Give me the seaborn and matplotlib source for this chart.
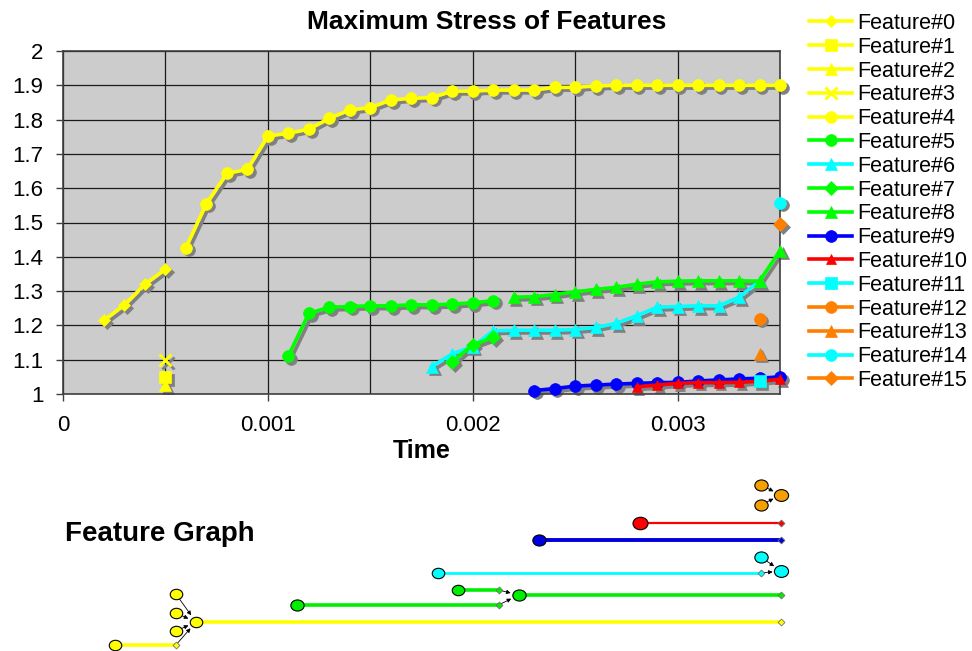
import numpy as np
import pandas as pd
import matplotlib
matplotlib.use("Agg")
import matplotlib.pyplot as plt
import seaborn as sns
from matplotlib.transforms import ScaledTranslation, Affine2D
from matplotlib.markers import MarkerStyle

# ---- data ----
t0 = [0.0002, 0.0003, 0.0004, 0.0005]
s0 = [1.215, 1.26, 1.32, 1.364]
t1 = [0.0005]
s1 = [1.05]
t2 = [0.0005]
s2 = [1.025]
t3 = [0.0005]
s3 = [1.098]
t4 = [0.0006, 0.0007, 0.0008, 0.0009, 0.0010, 0.0011, 0.0012, 0.0013, 0.0014, 0.0015,
      0.0016, 0.0017, 0.0018, 0.0019, 0.0020, 0.0021, 0.0022, 0.0023, 0.0024, 0.0025,
      0.0026, 0.0027, 0.0028, 0.0029, 0.0030, 0.0031, 0.0032, 0.0033, 0.0034, 0.0035]
s4 = [1.427, 1.555, 1.643, 1.655, 1.752, 1.76, 1.772, 1.804, 1.828, 1.835,
      1.857, 1.862, 1.864, 1.883, 1.883, 1.886, 1.886, 1.886, 1.894, 1.894,
      1.898, 1.9, 1.9, 1.9, 1.9, 1.9, 1.9, 1.9, 1.9, 1.9]
t5 = [0.0011, 0.0012, 0.0013, 0.0014, 0.0015, 0.0016, 0.0017, 0.0018, 0.0019, 0.0020, 0.0021]
s5 = [1.111, 1.235, 1.253, 1.255, 1.257, 1.257, 1.26, 1.26, 1.262, 1.266, 1.272]
t6 = [0.0018, 0.0019, 0.0020, 0.0021, 0.0022, 0.0023, 0.0024, 0.0025, 0.0026,
      0.0027, 0.0028, 0.0029, 0.0030, 0.0031, 0.0032, 0.0033, 0.0034]
s6 = [1.08, 1.117, 1.138, 1.184, 1.186, 1.186, 1.186, 1.188, 1.194,
      1.206, 1.228, 1.253, 1.255, 1.257, 1.257, 1.282, 1.329]
t7 = [0.0019, 0.0020, 0.0021]
s7 = [1.094, 1.143, 1.165]
t8 = [0.0022, 0.0023, 0.0024, 0.0025, 0.0026, 0.0027, 0.0028,
      0.0029, 0.0030, 0.0031, 0.0032, 0.0033, 0.0034, 0.0035]
s8 = [1.282, 1.284, 1.29, 1.298, 1.305, 1.311, 1.32,
      1.327, 1.329, 1.33, 1.33, 1.33, 1.329, 1.418]
t9 = [0.0023, 0.0024, 0.0025, 0.0026, 0.0027, 0.0028, 0.0029,
      0.0030, 0.0031, 0.0032, 0.0033, 0.0034, 0.0035]
s9 = [1.01, 1.016, 1.023, 1.026, 1.029, 1.031, 1.033,
      1.034, 1.038, 1.041, 1.044, 1.046, 1.05]
t10 = [0.0028, 0.0029, 0.0030, 0.0031, 0.0032, 0.0033, 0.0034, 0.0035]
s10 = [1.021, 1.026, 1.031, 1.033, 1.033, 1.034, 1.037, 1.043]
t11 = [0.0034]
s11 = [1.038]
t12 = [0.0034]
s12 = [1.22]
t13 = [0.0034]
s13 = [1.118]
t14 = [0.0035]
s14 = [1.558]
t15 = [0.0035]
s15 = [1.495]

times = [t0, t1, t2, t3, t4, t5, t6, t7, t8, t9, t10, t11, t12, t13, t14, t15]
stress = [s0, s1, s2, s3, s4, s5, s6, s7, s8, s9, s10, s11, s12, s13, s14, s15]
names = ["Feature#%d" % i for i in range(16)]

yticks = [1, 1.1, 1.2, 1.3, 1.4, 1.5, 1.6, 1.7, 1.8, 1.9, 2]
ytick_labels = ["1", "1.1", "1.2", "1.3", "1.4", "1.5", "1.6", "1.7", "1.8", "1.9", "2"]
xticks = [0, 0.001, 0.002, 0.003]
xtick_labels = ["0", "0.001", "0.002", "0.003"]

# feature graph: which features merge into which
merges = {4: [0, 1, 2, 3], 8: [5, 7], 14: [6, 11], 15: [12, 13]}

# ---- styles ----
colors = ["#FFFF00", "#FFFF00", "#FFFF00", "#FFFF00", "#FFFF00", "#00FF00", "#00FFFF", "#00FF00",
          "#00FF00", "#0000FF", "#FF0000", "#00FFFF", "#FF8000", "#FF8000", "#00FFFF", "#FF8000"]
markers = ["D", "s", "^", "x", "o", "o", "^", "D", "^", "o", "^", "s", "o", "^", "o", "D"]
msizes = [6.5, 8, 9, 9, 8.5, 8.5, 9, 7.5, 9, 8.5, 7, 8, 8.5, 9, 8.5, 7.5]
graph_colors = ["#FFFF00", "#FFFF00", "#FFFF00", "#FFFF00", "#FFFF00", "#00EE00", "#00FFFF", "#00EE00",
                "#00EE00", "#0000DD", "#FF0000", "#00FFFF", "#F5A000", "#F5A000", "#00FFFF", "#F5A000"]
graph_lw = [2.6, 2, 2, 2, 2.6, 2.6, 2.0, 2.6, 2.6, 2.8, 1.6, 2, 2, 2, 2, 2]
node_ms = [7.5, 7.5, 7.5, 7.5, 7.5, 8, 7.5, 7.5, 8, 8, 9, 8, 8, 8, 8.5, 8.5]
# lane height of each feature in the graph panel (layout only)
lanes = [6, 57, 38, 20, 29, 46, 78, 61, 56, 111, 128, 94, 166, 146, 80, 156]

plt.rcParams["font.family"] = ["Liberation Sans", "DejaVu Sans"]

fig = plt.figure(figsize=(9.72, 6.51), dpi=100)
ax = fig.add_axes([63 / 972, 1 - 394 / 651, 717 / 972, 343 / 651])
ax.set_facecolor("#CCCCCC")

shadow = ax.transData + ScaledTranslation(2 / 72, -2 / 72, fig.dpi_scale_trans)
for i in range(16):
    df = pd.DataFrame({"Time": times[i], "Stress": stress[i]})
    mew = 2 if markers[i] == "x" else 0.5
    sns.lineplot(data=df, x="Time", y="Stress", ax=ax, color="#808080", lw=2.6,
                 marker=markers[i], markersize=msizes[i], mec="#808080", mew=mew,
                 transform=shadow, zorder=2, legend=False, clip_on=False)
    sns.lineplot(data=df, x="Time", y="Stress", ax=ax, color=colors[i], lw=2.6,
                 marker=markers[i], markersize=msizes[i], mec=colors[i], mew=mew,
                 zorder=3 + i * 0.01, label=names[i], clip_on=False)

ax.set_xlim(0, 0.0035)
ax.set_ylim(1, 2)
ax.set_xticks(xticks)
ax.set_xticklabels(xtick_labels)
ax.set_xticks([0.0005, 0.0015, 0.0025, 0.0035], minor=True)
ax.set_yticks(yticks)
ax.set_yticklabels(ytick_labels)
ax.tick_params(axis="both", labelsize=16, length=5, color="#404040", width=1)
ax.tick_params(axis="y", pad=9)
ax.tick_params(axis="x", pad=10)
ax.tick_params(axis="x", which="minor", length=0)
ax.grid(True, which="both", color="#1a1a1a", lw=0.9)
ax.set_axisbelow(True)
for sp in ax.spines.values():
    sp.set_color("#404040")
    sp.set_linewidth(1.2)
ax.set_xlabel("Time", fontsize=18, fontweight="bold", labelpad=2)
ax.set_ylabel("")
fig.text(487 / 972, 1 - 22 / 651, "Maximum Stress of Features", fontsize=19,
         fontweight="bold", ha="center", va="center")

handles, labels = ax.get_legend_handles_labels()
ax.legend_.remove()
fig.legend(handles, labels, loc="upper left", bbox_to_anchor=(809 / 972, 1 - 13 / 651),
           frameon=False, fontsize=15.5, handlelength=2.0, handletextpad=0.25,
           labelspacing=0.13, borderpad=0, borderaxespad=0)

# ---- feature graph panel ----
ax2 = fig.add_axes([75 / 972, 0, 706 / 972, 181 / 651])
ax2.set_xlim(0, 0.0035)
ax2.set_ylim(0, 181)
ax2.axis("off")
node = MarkerStyle("o", transform=Affine2D().scale(1.2, 1.0))

ends = {}
for i in range(16):
    start, end = min(times[i]), max(times[i])
    c = graph_colors[i]
    if end > start:
        ax2.plot([start, end], [lanes[i], lanes[i]], color=c, lw=graph_lw[i], zorder=2,
                 clip_on=False)
        ax2.plot([end], [lanes[i]], marker="D", ms=3.5, color=c, mec="#707070", mew=0.6,
                 zorder=4, clip_on=False)
    ax2.plot([start], [lanes[i]], marker=node, ms=node_ms[i], color=c, mec="black", mew=0.8,
             zorder=5, clip_on=False)
    ends[i] = (end, lanes[i]) if end > start else (start, lanes[i])

for tgt, srcs in merges.items():
    for s in srcs:
        ax2.annotate("", xy=(min(times[tgt]), lanes[tgt]), xytext=ends[s],
                     arrowprops=dict(arrowstyle="-|>", color="black", lw=0.6,
                                     mutation_scale=6, shrinkA=2, shrinkB=6),
                     zorder=3, annotation_clip=False)

fig.text(65 / 972, 1 - 534 / 651, "Feature Graph", fontsize=20, fontweight="bold",
         ha="left", va="center")

fig.savefig("out.png", dpi=100)
